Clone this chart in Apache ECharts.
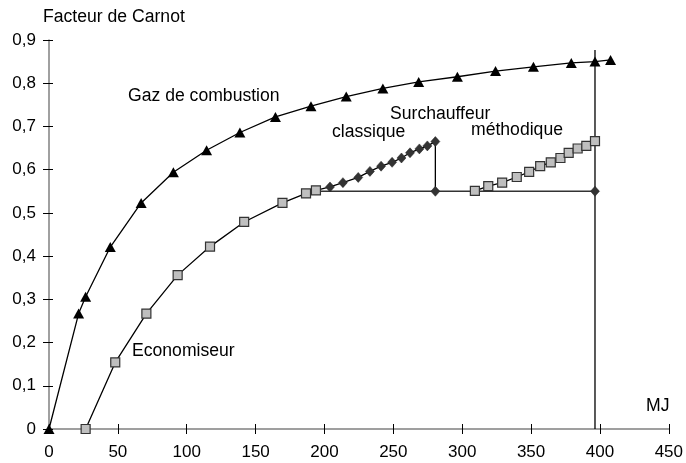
<!DOCTYPE html>
<html lang="fr">
<head>
    <meta charset="UTF-8">
    <title>Facteur de Carnot</title>
    <script src="https://cdn.jsdelivr.net/npm/echarts@6/dist/echarts.min.js"></script>
    <style>
        * {
            margin: 0;
            padding: 0
        }

        html, body {
            width: 100%;
            height: 100%;
            background: #fff;
        }

        #main {
            width: 686px;
            height: 463px;
        }
    </style>
</head>
<body>
<div id="main"></div>
<script type="text/javascript">
    /*-------------------- données --------------------*/
    // gaz de combustion (triangles)
    var gazX = [0, 21.5, 26.6, 44.5, 66.9, 90.3, 114.4, 138.6, 164.4, 190.2, 215.8, 242.4, 268.4, 296.5, 324.2, 351.7, 379.2, 396.4, 407.7];
    var gazY = [0, 0.267, 0.306, 0.421, 0.523, 0.594, 0.645, 0.686, 0.722, 0.747, 0.769, 0.788, 0.803, 0.815, 0.828, 0.838, 0.847, 0.850, 0.854];

    // économiseur (carrés)
    var ecoX = [26.6, 48.1, 70.7, 93.4, 116.9, 141.7, 169.5, 186.6, 193.8];
    var ecoY = [0, 0.154, 0.267, 0.356, 0.422, 0.479, 0.523, 0.545, 0.552];

    // surchauffeur classique (losanges)
    var classiqueX = [204, 213.4, 224.5, 233, 241.1, 249.1, 255.9, 262.1, 268.9, 274.7, 280.5, 280.5];
    var classiqueY = [0.560, 0.570, 0.582, 0.596, 0.608, 0.617, 0.627, 0.639, 0.648, 0.655, 0.665, 0.550];

    // surchauffeur méthodique (carrés)
    var methodiqueX = [309.2, 318.9, 329, 339.6, 348.6, 356.6, 364.3, 371.3, 377.3, 383.8, 390.1, 396.4];
    var methodiqueY = [0.551, 0.562, 0.570, 0.583, 0.595, 0.608, 0.617, 0.627, 0.639, 0.649, 0.655, 0.666];

    // palier horizontal et verticale de fin
    var palierX = [193.8, 396.4];
    var palierY = [0.550, 0.550];
    var verticaleX = [396.4, 396.4];
    var verticaleY = [0, 0.877];

    var xTicks = [0, 50, 100, 150, 200, 250, 300, 350, 400, 450];
    var yTicks = [0, 0.1, 0.2, 0.3, 0.4, 0.5, 0.6, 0.7, 0.8, 0.9];

    function pts(xs, ys) {
        return xs.map(function (x, i) { return [x, ys[i]]; });
    }

    var font = 'Liberation Sans, Arial, sans-serif';

    function label(txt, left, top) {
        return {
            type: 'text', left: left, top: top,
            style: {text: txt, fill: '#000', font: '17.6px ' + font}
        };
    }

    var classiqueData = [{value: [ecoX[ecoX.length - 1], ecoY[ecoY.length - 1]], symbol: 'none'}]
        .concat(pts(classiqueX, classiqueY));
    var palierData = [{value: [palierX[0], palierY[0]], symbol: 'none'}, [palierX[1], palierY[1]]];

    var myChart = echarts.init(document.getElementById('main'));
    myChart.setOption({
        animation: false,
        backgroundColor: '#fff',
        grid: {left: 49, right: 15, top: 40, bottom: 34},
        xAxis: [{
            type: 'value', min: 0, max: 450, interval: 50,
            axisLine: {lineStyle: {color: '#808080', width: 1.5}},
            axisTick: {length: 5, lineStyle: {color: '#000'}},
            axisLabel: {color: '#000', fontSize: 17, fontFamily: font, margin: 15},
            splitLine: {show: false}
        }, {
            type: 'value', min: 0, max: 450, interval: 50, position: 'bottom',
            axisLine: {show: false},
            axisTick: {inside: true, length: 5, lineStyle: {color: '#000'}},
            axisLabel: {show: false},
            splitLine: {show: false}
        }],
        yAxis: [{
            type: 'value', min: 0, max: 0.9, interval: 0.1,
            axisLine: {show: true, lineStyle: {color: '#808080', width: 1.5}},
            axisTick: {show: true, length: 6, lineStyle: {color: '#000'}},
            axisLabel: {
                color: '#000', fontSize: 17, fontFamily: font, margin: 13,
                formatter: function (v) {
                    return v === 0 ? '0' : v.toFixed(1).replace('.', ',');
                }
            },
            splitLine: {show: false}
        }, {
            type: 'value', min: 0, max: 0.9, interval: 0.1, position: 'left',
            axisLine: {show: false},
            axisTick: {show: true, inside: true, length: 4, lineStyle: {color: '#000'}},
            axisLabel: {show: false},
            splitLine: {show: false}
        }],
        graphic: [
            label('Facteur de Carnot', 43, 8),
            label('Gaz de combustion', 128, 87),
            label('Economiseur', 132, 342),
            label('Surchauffeur', 390, 105),
            label('classique', 332, 123),
            label('méthodique', 471, 121),
            label('MJ', 646, 397)
        ],
        series: [
            {
                name: 'verticale', type: 'line', z: 1,
                data: pts(verticaleX, verticaleY), symbol: 'none',
                lineStyle: {color: '#000', width: 1.3}
            },
            {
                name: 'palier', type: 'line', z: 2,
                data: palierData, symbol: 'diamond', symbolSize: [9, 10],
                showAllSymbol: true,
                itemStyle: {color: '#333', borderColor: '#222', borderWidth: 0.5},
                lineStyle: {color: '#333', width: 1.5}
            },
            {
                name: 'Gaz de combustion', type: 'line', z: 3,
                data: pts(gazX, gazY), symbol: 'triangle', symbolSize: [11, 10],
                showAllSymbol: true,
                itemStyle: {color: '#000'},
                lineStyle: {color: '#000', width: 1.3}
            },
            {
                name: 'Economiseur', type: 'line', z: 3,
                data: pts(ecoX, ecoY), symbol: 'rect', symbolSize: 9,
                showAllSymbol: true,
                itemStyle: {color: '#bfbfbf', borderColor: '#333', borderWidth: 1.2},
                lineStyle: {color: '#000', width: 1.3}
            },
            {
                name: 'classique', type: 'line', z: 3,
                data: classiqueData, symbol: 'diamond', symbolSize: [9, 10],
                showAllSymbol: true,
                itemStyle: {color: '#333', borderColor: '#222', borderWidth: 0.5},
                lineStyle: {color: '#000', width: 1.3}
            },
            {
                name: 'méthodique', type: 'line', z: 3,
                data: pts(methodiqueX, methodiqueY), symbol: 'rect', symbolSize: 9,
                showAllSymbol: true,
                itemStyle: {color: '#bfbfbf', borderColor: '#333', borderWidth: 1.2},
                lineStyle: {color: '#000', width: 1.3}
            }
        ]
    });
</script>

</body>
</html>
